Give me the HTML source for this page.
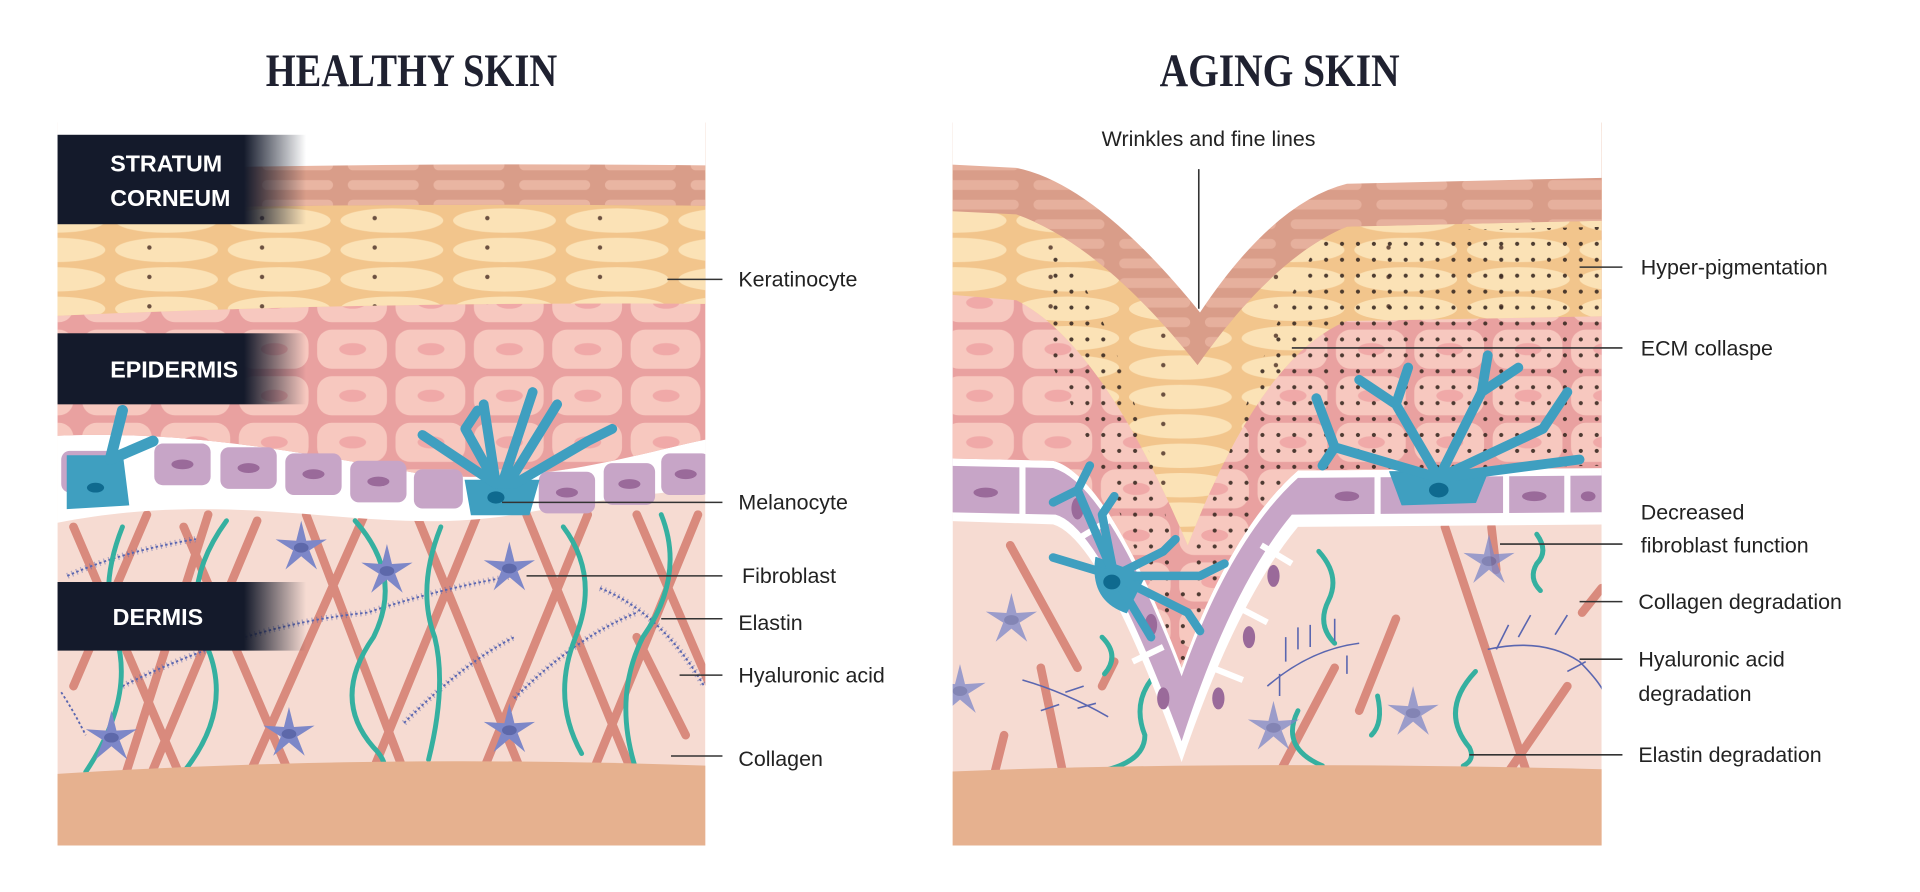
<!DOCTYPE html>
<html><head><meta charset="utf-8"><style>
html,body{margin:0;padding:0;background:#fff;width:1920px;height:892px;overflow:hidden}
svg{display:block}
</style></head><body>
<svg width="1920" height="892" viewBox="0 0 1568 728" preserveAspectRatio="none" xmlns="http://www.w3.org/2000/svg">
<defs>
<pattern id="sc" width="70" height="16" patternUnits="userSpaceOnUse">
<rect x="4" y="3" width="58" height="8" rx="4" fill="#e9b5a2"/>
</pattern>
<pattern id="yc" width="92" height="24" patternUnits="userSpaceOnUse">
<ellipse cx="44" cy="12" rx="42" ry="10" fill="#fbe2b6"/>
<circle cx="30" cy="10" r="1.8" fill="#6b5040"/>
</pattern>
<pattern id="pc" width="64" height="38" patternUnits="userSpaceOnUse">
<rect x="3" y="3" width="57" height="32" rx="12" fill="#f7c8bf"/>
<ellipse cx="32" cy="19" rx="11" ry="5" fill="#f0a9a8"/>
</pattern>
<pattern id="dots" width="13" height="13" patternUnits="userSpaceOnUse">
<circle cx="4" cy="4" r="1.7" fill="#3a2a22"/>
</pattern>
<clipPath id="cl"><rect x="47" y="100" width="529" height="590"/></clipPath>
<clipPath id="cr"><rect x="778" y="100" width="530" height="590"/></clipPath>
<symbol id="star" viewBox="-24 -24 48 48" overflow="visible">
<polygon points="0,-22 4.1,-5.7 20.9,-6.8 6.7,2.2 12.9,17.8 0,7 -12.9,17.8 -6.7,2.2 -20.9,-6.8 -4.1,-5.7" fill="#7d87c8"/>
<ellipse cx="0" cy="0" rx="6" ry="4" fill="#5d68aa"/>
</symbol>
<linearGradient id="fade" x1="0" x2="1" y1="0" y2="0">
<stop offset="0" stop-color="#141a2b"/><stop offset="0.75" stop-color="#141a2b"/><stop offset="1" stop-color="#141a2b" stop-opacity="0"/>
</linearGradient>
</defs>

<!-- Titles -->
<text x="336" y="70" text-anchor="middle" font-family="Liberation Serif, serif" font-weight="bold" font-size="38" textLength="238" lengthAdjust="spacingAndGlyphs" fill="#1f2130">HEALTHY SKIN</text>
<text x="1045" y="70" text-anchor="middle" font-family="Liberation Serif, serif" font-weight="bold" font-size="38" textLength="196" lengthAdjust="spacingAndGlyphs" fill="#1f2130">AGING SKIN</text>

<!-- LEFT PANEL -->
<g clip-path="url(#cl)">
<rect x="47" y="100" width="529" height="590" fill="#f6dbd2"/>
<!-- dermis collagen -->
<g stroke="#d98a7d" stroke-width="7" stroke-linecap="round" fill="none">
<path d="M60,430 L150,640 M120,420 L60,560 M150,430 L240,640 M210,425 L120,640 M250,420 L330,630 M300,415 L200,640 M340,420 L430,640 M390,420 L300,640 M430,420 L520,640 M480,420 L390,640 M520,420 L580,560 M570,420 L480,640 M100,640 L170,420 M560,600 L520,520"/>
</g>
<!-- hyaluronic -->
<g stroke="#5a66b0" stroke-width="1.5" fill="none" stroke-dasharray="2 2">
<path d="M55,470 Q100,450 160,440"/><path d="M100,560 Q200,510 300,500 Q360,480 420,470"/><path d="M420,570 Q470,520 520,500"/><path d="M330,590 Q380,540 420,520"/><path d="M490,480 Q540,500 575,560"/><path d="M50,565 Q60,580 70,600"/>
</g>
<g stroke="#5a66b0" stroke-width="5" fill="none" opacity=".45" stroke-dasharray="1 3">
<path d="M55,470 Q100,450 160,440"/><path d="M100,560 Q200,510 300,500 Q360,480 420,470"/><path d="M420,570 Q470,520 520,500"/><path d="M330,590 Q380,540 420,520"/><path d="M490,480 Q540,500 575,560"/>
</g>
<!-- elastin -->
<g stroke="#35b0a0" stroke-width="4" fill="none" stroke-linecap="round">
<path d="M100,430 Q80,480 95,520 Q110,570 70,630"/>
<path d="M185,425 Q145,480 170,530 Q190,580 150,630"/>
<path d="M290,425 Q330,470 305,520 Q270,570 305,610 Q320,625 310,635"/>
<path d="M360,430 Q340,480 355,520 Q365,560 350,620"/>
<path d="M460,430 Q490,470 470,520 Q450,570 475,615"/>
<path d="M540,420 Q560,470 525,520 Q500,570 520,630"/>
</g>
<use href="#star" x="222" y="423" width="48" height="48"/>
<use href="#star" x="292" y="442" width="48" height="48"/>
<use href="#star" x="392" y="440" width="48" height="48"/>
<use href="#star" x="67" y="578" width="48" height="48"/>
<use href="#star" x="212" y="575" width="48" height="48"/>
<use href="#star" x="392" y="572" width="48" height="48"/>
<!-- hypodermis -->
<path d="M40,632 Q300,615 580,625 L580,700 L40,700 Z" fill="#e6b18f"/>
<!-- basal white band -->
<path d="M40,428 C200,395 300,440 420,420 C480,410 540,400 580,400 L580,0 L40,0 Z" fill="#fff"/>
<!-- epidermis pink -->
<path d="M40,356 C150,350 250,370 350,388 C450,395 520,370 580,358 L580,0 L40,0 Z" fill="#e9a1a0"/>
<path d="M40,356 C150,350 250,370 350,388 C450,395 520,370 580,358 L580,0 L40,0 Z" fill="url(#pc)"/>
<!-- yellow -->
<path d="M40,258 Q300,246 580,248 L580,0 L40,0 Z" fill="#f2c58c"/>
<path d="M40,258 Q300,246 580,248 L580,0 L40,0 Z" fill="url(#yc)"/>
<!-- stratum -->
<path d="M40,172 Q300,165 580,168 L580,0 L40,0 Z" fill="#d99d89"/>
<path d="M40,172 Q300,165 580,168 L580,0 L40,0 Z" fill="url(#sc)"/>
<path d="M40,140 Q300,132 580,135 L580,0 L40,0 Z" fill="#fff"/>
<!-- basal cells -->
<g fill="#c7a5c7">
<rect x="50" y="368" width="44" height="34" rx="7"/>
<rect x="126" y="362" width="46" height="34" rx="7"/>
<rect x="180" y="365" width="46" height="34" rx="7"/>
<rect x="233" y="370" width="46" height="34" rx="7"/>
<rect x="286" y="376" width="46" height="34" rx="7"/>
<rect x="338" y="383" width="40" height="32" rx="7"/>
<rect x="440" y="385" width="46" height="34" rx="7"/>
<rect x="493" y="378" width="42" height="34" rx="7"/>
<rect x="540" y="370" width="40" height="34" rx="7"/>
</g>
<g fill="#9a6a9a">
<ellipse cx="149" cy="379" rx="9" ry="4"/><ellipse cx="203" cy="382" rx="9" ry="4"/><ellipse cx="256" cy="387" rx="9" ry="4"/><ellipse cx="309" cy="393" rx="9" ry="4"/><ellipse cx="463" cy="402" rx="9" ry="4"/><ellipse cx="514" cy="395" rx="9" ry="4"/><ellipse cx="560" cy="387" rx="9" ry="4"/>
</g>
<!-- melanocytes -->
<g fill="#3f9fc0" stroke="#3f9fc0" stroke-linecap="round">
<path d="M380,392 L440,392 L432,420 L385,420 Z"/>
<path d="M405,395 L380,350 M405,395 L345,355 M410,395 L435,320 M415,395 L455,330 M420,395 L480,360 L500,350 M405,395 L395,330 M380,350 L390,335" stroke-width="8" fill="none"/>
<path d="M55,372 L100,372 L105,412 L55,415 Z"/>
<path d="M90,375 L100,335 M90,375 L125,360" stroke-width="9" fill="none"/>
</g>
<ellipse cx="405" cy="406" rx="7" ry="5" fill="#0f6a8f"/>
<ellipse cx="78" cy="398" rx="7" ry="4" fill="#0f6a8f"/>
</g>
<!-- left layer labels -->
<rect x="47" y="110" width="203" height="73" fill="url(#fade)"/>
<rect x="47" y="272" width="203" height="58" fill="url(#fade)"/>
<rect x="47" y="475" width="203" height="56" fill="url(#fade)"/>
<g font-family="Liberation Sans, sans-serif" font-weight="bold" font-size="19" fill="#fff">
<text x="90" y="140">STRATUM</text><text x="90" y="168">CORNEUM</text>
<text x="90" y="308">EPIDERMIS</text>
<text x="92" y="510">DERMIS</text>
</g>
<!-- left connectors -->
<g stroke="#333" stroke-width="1.3">
<line x1="545" y1="228" x2="590" y2="228"/>
<line x1="410" y1="410" x2="590" y2="410"/>
<line x1="430" y1="470" x2="590" y2="470"/>
<line x1="540" y1="505" x2="590" y2="505"/>
<line x1="555" y1="551" x2="590" y2="551"/>
<line x1="548" y1="617" x2="590" y2="617"/>
</g>
<g font-family="Liberation Sans, sans-serif" font-size="17.5" fill="#222">
<text x="603" y="234">Keratinocyte</text>
<text x="603" y="416">Melanocyte</text>
<text x="606" y="476">Fibroblast</text>
<text x="603" y="514">Elastin</text>
<text x="603" y="557">Hyaluronic acid</text>
<text x="603" y="625">Collagen</text>
</g>

<!-- RIGHT PANEL -->
<g clip-path="url(#cr)">
<rect x="778" y="100" width="530" height="590" fill="#f6dbd2"/>
<g stroke="#d98a7d" stroke-width="7" stroke-linecap="round" fill="none">
<path d="M825,445 L880,545"/><path d="M850,545 L870,640"/><path d="M820,600 L810,640"/>
<path d="M1090,545 L1040,640"/><path d="M1140,505 L1110,580"/><path d="M1180,430 L1250,640"/>
<path d="M1280,560 L1225,640"/><path d="M1308,480 L1292,500"/><path d="M1218,430 L1222,465"/><path d="M910,540 L900,560"/>
</g>
<g stroke="#35b0a0" stroke-width="4" fill="none" stroke-linecap="round">
<path d="M1077,450 Q1095,470 1085,490 Q1075,510 1090,525"/>
<path d="M1255,436 Q1265,450 1255,460 Q1248,472 1258,482"/>
<path d="M940,555 Q925,575 935,600 Q935,620 905,628"/>
<path d="M900,520 Q915,535 902,550"/>
<path d="M1060,580 Q1045,610 1080,625"/>
<path d="M1205,548 Q1175,580 1200,610 Q1205,620 1195,625"/>
<path d="M1125,568 Q1130,590 1120,600"/>
</g>
<g stroke="#5a66b0" stroke-width="1.3" fill="none">
<path d="M835,555 Q870,565 905,585"/><path d="M1035,560 Q1070,530 1110,525"/><path d="M1215,530 Q1260,520 1290,540 Q1305,555 1310,565"/>
</g>
<g stroke="#5a66b0" stroke-width="1.3" fill="none">
<path d="M1050,520 v20 M1060,512 v18 M1070,510 v18 M1090,505 v18 M1045,550 v18 M1100,535 v15 M1222,530 l10,-20 M1240,520 l10,-18 M1270,518 l10,-16 M1295,540 l-15,8 M870,565 l15,-5 M850,580 l15,-5 M880,578 l15,-4"/>
</g>
<g opacity=".75">
<use href="#star" x="802" y="482" width="48" height="48"/>
<use href="#star" x="1192" y="434" width="48" height="48"/>
<use href="#star" x="1130" y="558" width="48" height="48"/>
<use href="#star" x="1016" y="570" width="48" height="48"/>
<use href="#star" x="760" y="540" width="48" height="48"/>
</g>
<path d="M770,630 Q1000,620 1315,628 L1315,700 L770,700 Z" fill="#e6b18f"/>
<!-- white basal band (V) -->
<path d="M770,425 L860,428 Q900,440 965,622 Q1010,490 1060,430 L1315,428 L1315,0 L770,0 Z" fill="#fff"/>
<!-- purple basal layer -->
<path d="M770,418 L862,420 Q900,430 965,605 Q1005,480 1055,420 L1315,418 L1315,0 L770,0 Z" fill="#c7a5c7"/>
<!-- white line between basal and epidermis -->
<path d="M770,380 L860,382 Q905,395 965,552 Q1005,440 1060,390 L1315,388 L1315,0 L770,0 Z" fill="#fff"/>
<!-- epidermis pink -->
<path d="M770,374 L860,376 Q905,388 965,545 Q1005,432 1060,384 L1315,382 L1315,0 L770,0 Z" fill="#e9a1a0"/>
<path d="M770,374 L860,376 Q905,388 965,545 Q1005,432 1060,384 L1315,382 L1315,0 L770,0 Z" fill="url(#pc)"/>
<!-- yellow -->
<path d="M770,240 L830,245 Q900,280 970,445 Q1030,290 1100,262 L1315,258 L1315,0 L770,0 Z" fill="#f2c58c"/>
<path d="M770,240 L830,245 Q900,280 970,445 Q1030,290 1100,262 L1315,258 L1315,0 L770,0 Z" fill="url(#yc)"/>
<!-- stratum -->
<path d="M770,172 L830,175 Q900,200 978,298 Q1040,210 1100,185 L1315,180 L1315,0 L770,0 Z" fill="#d99d89"/>
<path d="M770,172 L830,175 Q900,200 978,298 Q1040,210 1100,185 L1315,180 L1315,0 L770,0 Z" fill="url(#sc)" opacity=".8"/>
<path d="M770,134 L830,137 Q895,150 980,255 Q1040,165 1100,150 L1315,145 L1315,0 L770,0 Z" fill="#fff"/>
<!-- hyperpigmentation dots -->
<path d="M860,200 Q920,260 965,480 Q1010,350 1040,270 L1080,190 L1315,185 L1315,380 L1060,384 Q1000,440 965,545 Q910,400 860,300 Z" fill="url(#dots)" opacity=".9"/>
<!-- basal cells white separators -->
<g stroke="#fff" stroke-width="5">
<line x1="835" y1="380" x2="835" y2="425"/><line x1="1125" y1="385" x2="1125" y2="425"/><line x1="1230" y1="385" x2="1230" y2="425"/><line x1="1280" y1="385" x2="1280" y2="425"/>
<line x1="880" y1="440" x2="905" y2="425"/><line x1="905" y1="490" x2="935" y2="475"/><line x1="925" y1="540" x2="950" y2="528"/>
<line x1="1030" y1="445" x2="1055" y2="460"/><line x1="1010" y1="495" x2="1035" y2="508"/><line x1="990" y1="545" x2="1015" y2="555"/>
</g>
<g fill="#9a6a9a">
<ellipse cx="805" cy="402" rx="10" ry="4"/><ellipse cx="1100" cy="405" rx="10" ry="4"/><ellipse cx="1253" cy="405" rx="10" ry="4"/><ellipse cx="1297" cy="405" rx="6" ry="4"/>
<ellipse cx="880" cy="415" rx="5" ry="9"/><ellipse cx="940" cy="510" rx="5" ry="9"/><ellipse cx="1040" cy="470" rx="5" ry="9"/><ellipse cx="1020" cy="520" rx="5" ry="9"/><ellipse cx="995" cy="570" rx="5" ry="9"/><ellipse cx="950" cy="570" rx="5" ry="9"/>
</g>
<!-- melanocytes -->
<g fill="#3f9fc0" stroke="#3f9fc0" stroke-linecap="round" stroke-linejoin="round">
<path d="M1135,385 L1215,385 L1205,410 L1145,412 Z"/>
<path d="M1175,390 L1140,330 L1150,300 M1140,330 L1110,310 M1175,390 L1210,320 L1215,290 M1210,320 L1240,300 M1175,390 L1260,350 L1280,320 M1175,390 L1090,365 L1075,325 M1090,365 L1080,380 M1175,390 L1290,375" stroke-width="8" fill="none"/>
<path d="M895,455 Q890,490 920,500 L935,470 Z"/>
<path d="M910,470 L880,400 L890,380 M880,400 L860,410 M910,470 L900,420 L910,405 M910,470 L950,450 L960,440 M910,470 L980,470 L1000,460 M910,470 L970,500 L980,515 M910,470 L940,520 M910,470 L860,455" stroke-width="7" fill="none"/>
</g>
<ellipse cx="1175" cy="400" rx="8" ry="6" fill="#0f6a8f"/>
<ellipse cx="908" cy="475" rx="7" ry="6" fill="#0f6a8f"/>
</g>
<!-- right connectors -->
<g stroke="#333" stroke-width="1.3">
<line x1="979" y1="138" x2="979" y2="252"/>
<line x1="1290" y1="218" x2="1325" y2="218"/>
<line x1="1055" y1="284" x2="1325" y2="284"/>
<line x1="1225" y1="444" x2="1325" y2="444"/>
<line x1="1290" y1="491" x2="1325" y2="491"/>
<line x1="1290" y1="538" x2="1325" y2="538"/>
<line x1="1200" y1="616" x2="1325" y2="616"/>
</g>
<g font-family="Liberation Sans, sans-serif" font-size="17.5" fill="#222">
<text x="987" y="119" text-anchor="middle">Wrinkles and fine lines</text>
<text x="1340" y="224">Hyper-pigmentation</text>
<text x="1340" y="290">ECM collaspe</text>
<text x="1340" y="424">Decreased</text>
<text x="1340" y="451">fibroblast function</text>
<text x="1338" y="497">Collagen degradation</text>
<text x="1338" y="544">Hyaluronic acid</text>
<text x="1338" y="572">degradation</text>
<text x="1338" y="622">Elastin degradation</text>
</g>
</svg>
</body></html>
